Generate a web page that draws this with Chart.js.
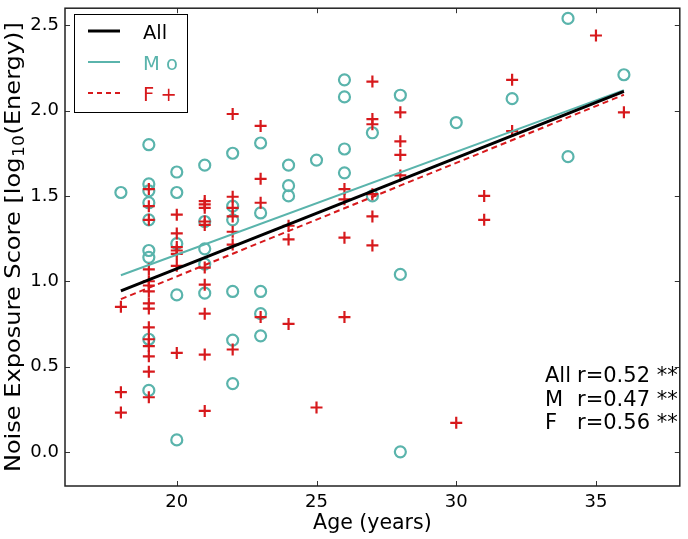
<!DOCTYPE html>
<html>
<head>
<meta charset="utf-8">
<script src="https://cdn.jsdelivr.net/npm/chart.js@4/dist/chart.umd.min.js"></script>
<style>
  html, body { margin: 0; padding: 0; background: #fff; }
  #wrap { width: 688px; height: 539px; }
</style>
</head>
<body>
<div id="wrap"><canvas id="myChart" width="688" height="539"></canvas></div>
<script>
// M (circles)
const mAge = [18,
  19,19,19,19,19,19,19,19,19,
  20,20,20,20,20,
  21,21,21,21,21,
  22,22,22,22,22,22,
  23,23,23,23,23,
  24,24,24,
  25,
  26,26,26,26,
  27,27,
  28,28,28,
  30, 32, 34,34, 36];
const mScore = [1.52,
  1.80,1.57,1.53,1.46,1.36,1.18,1.14,0.66,0.36,
  1.64,1.52,1.22,0.92,0.07,
  1.68,1.35,1.19,1.10,0.93,
  1.75,1.44,1.36,0.94,0.655,0.40,
  1.81,1.40,0.94,0.81,0.68,
  1.68,1.56,1.50,
  1.71,
  2.18,2.08,1.775,1.635,
  1.87,1.50,
  2.09,1.04,0.00,
  1.93, 2.07, 2.54,1.73, 2.21];

// F (plus)
const fAge = [18,18,18,
  19,19,19,19,19,19,19,19,19,19,19,19,19,19,19,
  20,20,20,20,20,20,20,
  21,21,21,21,21,21,21,21,21,21,
  22,22,22,22,22,22,22,
  23,23,23,23,
  24,24,24,
  25,
  26,26,26,26,
  27,27,27,27,27,27,
  28,28,28,28,
  30, 31,31, 32,32, 35, 36];
const fScore = [0.85,0.35,0.23,
  1.54,1.44,1.36,1.07,1.00,0.975,0.94,0.87,0.84,0.73,0.66,0.62,0.56,0.47,0.32,
  1.39,1.28,1.20,1.18,1.16,1.09,0.58,
  1.47,1.45,1.43,1.35,1.33,1.08,0.98,0.81,0.57,0.24,
  1.98,1.495,1.43,1.38,1.29,1.215,0.60,
  1.91,1.60,1.46,0.79,
  1.325,1.245,0.75,
  0.26,
  1.54,1.48,1.255,0.79,
  2.17,1.95,1.92,1.51,1.38,1.21,
  1.99,1.82,1.74,1.62,
  0.17, 1.50,1.36, 2.18,1.88, 2.44, 1.99];

// regression lines
const fitX = [18, 36];
const fitAll = [0.944, 2.113];
const fitM = [1.035, 2.12];
const fitF = [0.895, 2.093];

const xTicks = [20, 25, 30, 35];
const yTicks = [0.0, 0.5, 1.0, 1.5, 2.0, 2.5];
const statLabels = ['All', 'M', 'F'];
const statText = ['r=0.52 **', 'r=0.47 **', 'r=0.56 **'];

const teal = '#5ab4ac';
const red = '#d7191c';
const font = 'DejaVu Sans';

function pts(xs, ys) {
  return xs.map((x, i) => ({ x: x, y: ys[i] }));
}

// frame, inward ticks, legend box, y title and r text
const decor = {
  id: 'decor',
  afterDraw(chart) {
    const ctx = chart.ctx;
    const a = chart.chartArea;
    const xs = chart.scales.x, ys = chart.scales.y;
    ctx.save();
    ctx.strokeStyle = '#333';
    ctx.lineWidth = 1;
    xTicks.forEach(v => {
      const px = Math.round(xs.getPixelForValue(v)) + 0.5;
      ctx.beginPath();
      ctx.moveTo(px, a.bottom); ctx.lineTo(px, a.bottom - 5);
      ctx.moveTo(px, a.top); ctx.lineTo(px, a.top + 5);
      ctx.stroke();
    });
    yTicks.forEach(v => {
      const py = Math.round(ys.getPixelForValue(v)) + 0.5;
      ctx.beginPath();
      ctx.moveTo(a.left, py); ctx.lineTo(a.left + 5, py);
      ctx.moveTo(a.right, py); ctx.lineTo(a.right - 5, py);
      ctx.stroke();
    });
    ctx.lineWidth = 1.5;
    ctx.strokeStyle = '#222';
    ctx.strokeRect(a.left, a.top, a.right - a.left, a.bottom - a.top);

    // legend
    ctx.fillStyle = '#fff';
    ctx.fillRect(74.5, 14.5, 113, 98);
    ctx.lineWidth = 1;
    ctx.strokeStyle = '#000';
    ctx.strokeRect(74.5, 14.5, 113, 98);
    const items = [
      { t: 'All', c: '#000', w: 3, d: [] },
      { t: 'M o', c: teal, w: 2, d: [] },
      { t: 'F +', c: red, w: 2, d: [5, 4] }
    ];
    ctx.font = '19.5px "' + font + '"';
    ctx.textBaseline = 'alphabetic';
    items.forEach((it, i) => {
      const y = 31 + i * 31;
      ctx.beginPath();
      ctx.setLineDash(it.d);
      ctx.strokeStyle = it.c;
      ctx.lineWidth = it.w;
      ctx.moveTo(88, y); ctx.lineTo(120, y);
      ctx.stroke();
      ctx.setLineDash([]);
      ctx.fillStyle = it.c;
      ctx.fillText(it.t, 143, y + 8);
    });

    // correlation text
    ctx.fillStyle = '#000';
    ctx.font = '21px "' + font + '"';
    statLabels.forEach((s, i) => {
      const y = 382 + i * 23.5;
      ctx.fillText(s, 545, y);
      ctx.fillText(statText[i], 577, y);
    });

    // y axis title with subscript
    const big = '21px "' + font + '"', small = '15px "' + font + '"';
    const p1 = 'Noise Exposure Score [log', p2 = '10', p3 = '(Energy)]';
    ctx.font = big;
    const w1 = ctx.measureText(p1).width, w3 = ctx.measureText(p3).width;
    ctx.font = small;
    const w2 = ctx.measureText(p2).width + 1;
    const W = w1 + w2 + w3;
    const stretch = 450 / W;
    ctx.translate(20, (a.top + a.bottom) / 2);
    ctx.rotate(-Math.PI / 2);
    ctx.scale(stretch, 1);
    let x0 = -W / 2;
    ctx.font = big;
    ctx.fillText(p1, x0, 0);
    ctx.font = small;
    ctx.fillText(p2, x0 + w1 + 0.5, 4);
    ctx.font = big;
    ctx.fillText(p3, x0 + w1 + w2, 0);
    ctx.restore();
  }
};

const mychart = document.getElementById('myChart').getContext('2d');
const myChart = new Chart(mychart, {
  type: 'scatter',
  data: {
    datasets: [
      { label: 'All', data: pts(fitX, fitAll), showLine: true, borderColor: '#000', borderWidth: 3,
        pointRadius: 0, order: 1 },
      { label: 'M fit', data: pts(fitX, fitM), showLine: true, borderColor: teal, borderWidth: 2,
        pointRadius: 0, order: 2 },
      { label: 'F fit', data: pts(fitX, fitF), showLine: true, borderColor: red, borderWidth: 2,
        borderDash: [6, 4], pointRadius: 0, order: 3 },
      { label: 'M', data: pts(mAge, mScore), pointStyle: 'circle', pointRadius: 5.5,
        backgroundColor: 'rgba(0,0,0,0)', borderColor: teal, pointBorderWidth: 2.2, order: 5 },
      { label: 'F', data: pts(fAge, fScore), pointStyle: 'cross', pointRadius: 6,
        borderColor: red, pointBorderWidth: 2.2, order: 4 }
    ]
  },
  options: {
    responsive: false,
    animation: false,
    events: [],
    layout: { padding: { left: 0, right: 3, top: 4, bottom: 0 } },
    plugins: { legend: { display: false }, tooltip: { enabled: false } },
    scales: {
      x: {
        type: 'linear', min: 16, max: 38,
        afterFit(scale) { scale.height = 53; scale.paddingLeft = 0; scale.paddingRight = 0; },
        afterBuildTicks(scale) { scale.ticks = xTicks.map(v => ({ value: v })); },
        grid: { display: false, drawTicks: false },
        border: { display: false },
        ticks: { color: '#000', padding: 6, font: { family: font, size: 18 } },
        title: { display: true, text: 'Age (years)', color: '#000',
                 font: { family: font, size: 20.5 }, padding: { top: 0, bottom: 3 } }
      },
      y: {
        type: 'linear', min: -0.2, max: 2.6,
        afterFit(scale) { scale.width = 65; scale.paddingTop = 0; scale.paddingBottom = 0; },
        afterBuildTicks(scale) { scale.ticks = yTicks.map(v => ({ value: v })); },
        grid: { display: false, drawTicks: false },
        border: { display: false },
        ticks: { color: '#000', padding: 6, font: { family: font, size: 18 },
                 callback: v => v.toFixed(1) },
        title: { display: false }
      }
    }
  },
  plugins: [decor]
});
</script>
</body>
</html>
